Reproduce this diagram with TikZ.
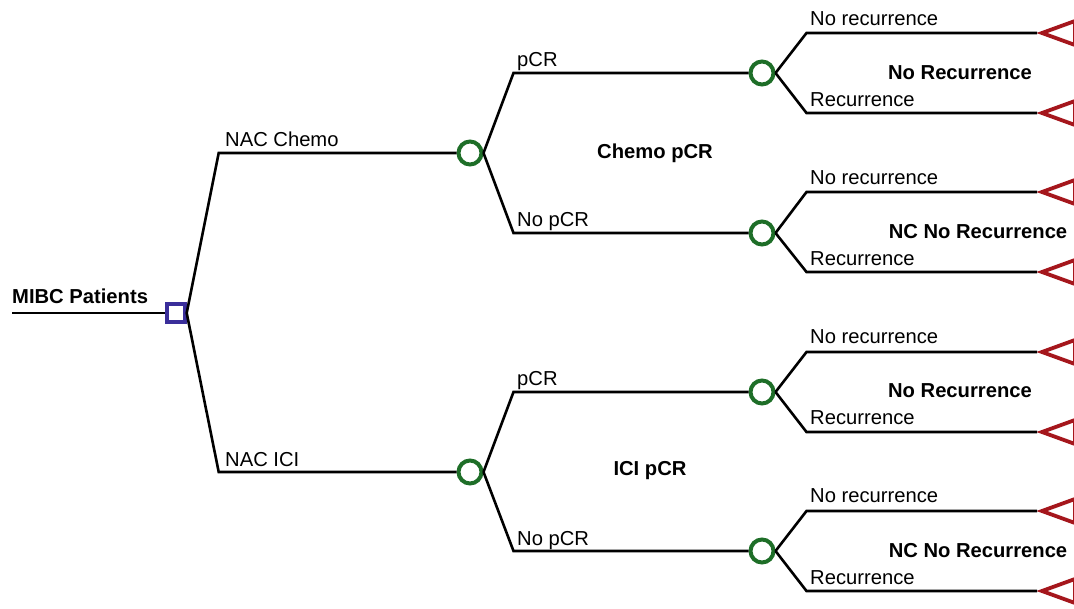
\documentclass[tikz,border=0pt]{standalone}
\usepackage{fontspec}
\setmainfont{Liberation Sans}
\usetikzlibrary{positioning,shapes.geometric,calc}
\definecolor{decblue}{RGB}{58,46,154}
\definecolor{chgreen}{RGB}{30,110,40}
\definecolor{termred}{RGB}{165,22,28}
\tikzset{
  br/.style={line width=2.6pt,black},  % tree branch
  decn/.style={rectangle,draw=decblue,line width=3.4pt,minimum size=18pt,inner sep=0pt}, % decision
  chn/.style={circle,draw=chgreen,line width=4pt,minimum size=23pt,inner sep=0pt},   % chance
  termn/.style={isosceles triangle,isosceles triangle stretches,shape border rotate=180,
    draw=termred,line width=3.8pt,minimum width=24pt,minimum height=33pt,inner sep=0pt,anchor=apex}, % terminal
  lbl/.style={anchor=base west,inner sep=0pt,font=\fontsize{20.2}{24}\selectfont},
  blbl/.style={inner sep=0pt,font=\fontsize{20.2}{24}\selectfont\bfseries},
}
\begin{document}
\begin{tikzpicture}[x=1pt,y=-1pt]
  \useasboundingbox (0,0) rectangle (1074,608);
  % root decision
  \coordinate (start) at (12,313);
  \node[decn] (dec) at (176,313) {};
  \node[lbl,font=\fontsize{20.2}{24}\selectfont\bfseries] (root) at (12,303) {MIBC Patients};
  \draw[br] (start) -- (dec);
  % treatment arms
  \node[chn] (chemo) at (470,153) {};
  \node[chn] (ici) at (470,472) {};
  \draw[br] (dec.east) -- +(32,-160) -- (chemo);
  \draw[br] (dec.east) -- +(32,159) -- (ici);
  \node[lbl] (lchemo) at (225,146) {NAC Chemo};
  \node[lbl] (lici) at (225,466) {NAC ICI};
  \node[blbl] (bchemo) at (655,153) {Chemo pCR};
  \node[blbl] (bici) at (650,471) {ICI pCR};
  % response nodes
  \node[chn] (cp) at (762,73) {};
  \node[chn] (cn) at (762,233) {};
  \node[chn] (ip) at (762,392) {};
  \node[chn] (in) at (762,551) {};
  \draw[br] (chemo.east) -- +(30,-80) -- (cp);
  \draw[br] (chemo.east) -- +(30,80) -- (cn);
  \draw[br] (ici.east) -- +(30,-80) -- (ip);
  \draw[br] (ici.east) -- +(30,79) -- (in);
  \node[lbl] (lcp) at (517,66) {pCR};
  \node[lbl] (lcn) at (517,226) {No pCR};
  \node[lbl] (lip) at (517,385) {pCR};
  \node[lbl] (lin) at (517,545) {No pCR};
  % terminals
  \node[termn] (t1) at (1037,33) {};
  \node[termn] (t2) at (1037,113) {};
  \node[termn] (t3) at (1037,192) {};
  \node[termn] (t4) at (1037,272) {};
  \node[termn] (t5) at (1037,352) {};
  \node[termn] (t6) at (1037,432) {};
  \node[termn] (t7) at (1037,511) {};
  \node[termn] (t8) at (1037,591) {};
  \draw[br] (cp.east) -- +(31,-40) -- (t1.apex);
  \draw[br] (cp.east) -- +(31,40) -- (t2.apex);
  \draw[br] (cn.east) -- +(31,-41) -- (t3.apex);
  \draw[br] (cn.east) -- +(31,39) -- (t4.apex);
  \draw[br] (ip.east) -- +(31,-40) -- (t5.apex);
  \draw[br] (ip.east) -- +(31,40) -- (t6.apex);
  \draw[br] (in.east) -- +(31,-40) -- (t7.apex);
  \draw[br] (in.east) -- +(31,40) -- (t8.apex);
  \node[lbl] (l1) at (810,25) {No recurrence};
  \node[lbl] (l2) at (810,106) {Recurrence};
  \node[lbl] (l3) at (810,184) {No recurrence};
  \node[lbl] (l4) at (810,265) {Recurrence};
  \node[lbl] (l5) at (810,343) {No recurrence};
  \node[lbl] (l6) at (810,424) {Recurrence};
  \node[lbl] (l7) at (810,502) {No recurrence};
  \node[lbl] (l8) at (810,584) {Recurrence};
  \node[blbl] (b1) at (960,73) {No Recurrence};
  \node[blbl] (b2) at (978,232) {NC No Recurrence};
  \node[blbl] (b3) at (960,391) {No Recurrence};
  \node[blbl] (b4) at (978,551) {NC No Recurrence};
\end{tikzpicture}
\end{document}
